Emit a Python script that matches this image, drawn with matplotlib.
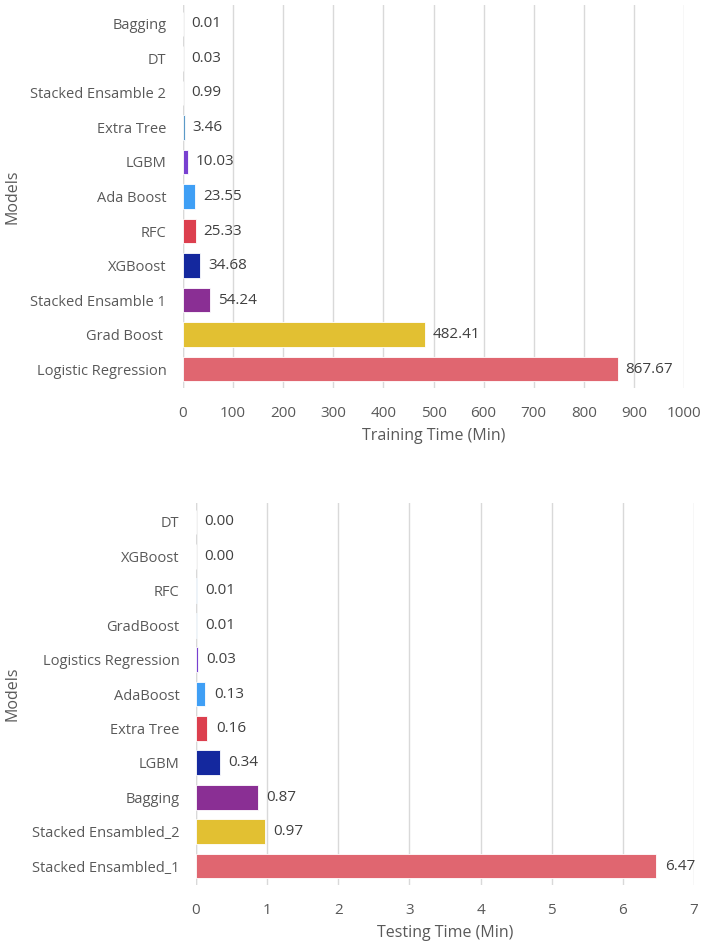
import matplotlib.pyplot as plt
import numpy as np

plt.rcParams['font.family'] = ['Open Sans', 'DejaVu Sans']
plt.rcParams['font.size'] = 10.5

# top chart, listed top to bottom
train_models = ["Bagging", "DT", "Stacked Ensamble 2", "Extra Tree", "LGBM", "Ada Boost",
                "RFC", "XGBoost", "Stacked Ensamble 1", "Grad Boost ", "Logistic Regression"]
train_time = [0.01, 0.03, 0.99, 3.46, 10.03, 23.55, 25.33, 34.68, 54.24, 482.41, 867.67]

# bottom chart, listed top to bottom
test_models = ["DT", "XGBoost", "RFC", "GradBoost", "Logistics Regression", "AdaBoost",
               "Extra Tree", "LGBM", "Bagging", "Stacked Ensambled_2", "Stacked Ensambled_1"]
test_time = [0.00, 0.00, 0.01, 0.01, 0.03, 0.13, 0.16, 0.34, 0.87, 0.97, 6.47]

# colours top to bottom
bar_colors = ["#4a8fd0", "#4a8fd0", "#4a8fd0", "#5b9ac8", "#7840d0", "#3f9ff5",
              "#dc3f4e", "#14289e", "#8a2f94", "#e2c032", "#e06670"]

TXT = "#595959"


def draw(ax, models, vals, xmax, step, xlabel, fmt_off):
    y = np.arange(len(models))[::-1]
    ax.barh(y, vals, height=0.72, color=bar_colors, edgecolor="white", linewidth=0.6, zorder=3)
    for yi, v in zip(y, vals):
        ax.text(v + fmt_off, yi, f"{v:.2f}", va="center", ha="left", color="#404040",
                fontsize=11, zorder=4)
    ax.set_yticks(y)
    ax.set_yticklabels(models, color=TXT)
    ax.set_xlim(0, xmax)
    ax.set_xticks(np.arange(0, xmax + step / 2, step))
    ax.set_ylim(-0.55, len(models) - 0.45)
    ax.tick_params(axis="x", colors=TXT, length=0, pad=13, labelsize=11)
    ax.tick_params(axis="y", length=0, pad=12)
    ax.grid(axis="x", color="#d9d9d9", linewidth=1, zorder=0)
    for s in ax.spines.values():
        s.set_visible(False)
    ax.axvline(0, color="#d9d9d9", linewidth=1, zorder=1)
    ax.set_xlabel(xlabel, color=TXT, fontsize=11.5, labelpad=5)
    ax.set_ylabel("Models", color=TXT, fontsize=11.5)


fig = plt.figure(figsize=(7.08, 9.48), dpi=100)
ax1 = fig.add_axes([183 / 708, 1 - 388 / 948, 501 / 708, 383 / 948])
ax2 = fig.add_axes([196 / 708, 1 - 885 / 948, 498 / 708, 382 / 948])

draw(ax1, train_models, train_time, 1000, 100, "Training Time (Min)", 16)
draw(ax2, test_models, test_time, 7, 1, "Testing Time (Min)", 0.12)
ax1.yaxis.set_label_coords((21 - 183) / 501, 0.5)
ax2.yaxis.set_label_coords((21 - 196) / 498, 0.5)

fig.savefig("out.png", dpi=100)
